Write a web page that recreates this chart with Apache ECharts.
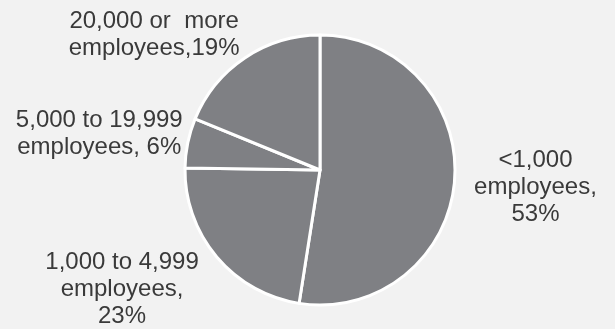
<!DOCTYPE html>
<html>
<head>
<meta charset="utf-8">
<script src="https://cdn.jsdelivr.net/npm/echarts@6/dist/echarts.min.js"></script>
<style>
html,body{margin:0;padding:0;background:#f2f2f2;}
#chart{width:615px;height:329px;}
</style>
</head>
<body>
<div id="chart"></div>
<script>
const categories = ['<1,000', '1,000 to 4,999', '5,000 to 19,999', '20,000 or  more'];
const values = [53, 23, 6, 19];
const labelTemplates = ['{c}\nemployees,\n{p}%', '{c}\nemployees,\n{p}%', '{c}\nemployees, {p}%', '{c}\nemployees,{p}%'];

// layout (not data): pie geometry and label placement in polar terms around the pie centre
const CX = 320, CY = 170, RADIUS = 135, LABEL_DY = 2;
const labelPolar = [
  {angle: 94.0, dist: 216},
  {angle: 239.4, dist: 230},
  {angle: 279.8, dist: 224},
  {angle: 309.5, dist: 215}
];

const chart = echarts.init(document.getElementById('chart'), null, {renderer: 'canvas'});
chart.setOption({
  backgroundColor: '#f2f2f2',
  animation: false,
  series: [{
    type: 'pie',
    center: [CX, CY],
    radius: RADIUS,
    startAngle: 90,
    clockwise: true,
    avoidLabelOverlap: false,
    data: categories.map((c, i) => ({name: c, value: values[i]})),
    itemStyle: {color: '#7f8084', borderColor: '#ffffff', borderWidth: 3},
    label: {
      show: true,
      position: 'outside',
      color: '#3a3a3a',
      fontFamily: 'Liberation Sans, Arial, sans-serif',
      fontSize: 24,
      lineHeight: 27,
      formatter: p => labelTemplates[p.dataIndex].replace('{c}', p.name).replace('{p}', p.value)
    },
    labelLine: {show: false},
    emphasis: {disabled: true},
    labelLayout: function (params) {
      const lp = labelPolar[params.dataIndex];
      const a = lp.angle * Math.PI / 180;
      return {
        x: CX + lp.dist * Math.sin(a),
        y: CY - lp.dist * Math.cos(a) + LABEL_DY,
        align: 'center',
        verticalAlign: 'middle'
      };
    }
  }]
});
</script>
</body>
</html>
